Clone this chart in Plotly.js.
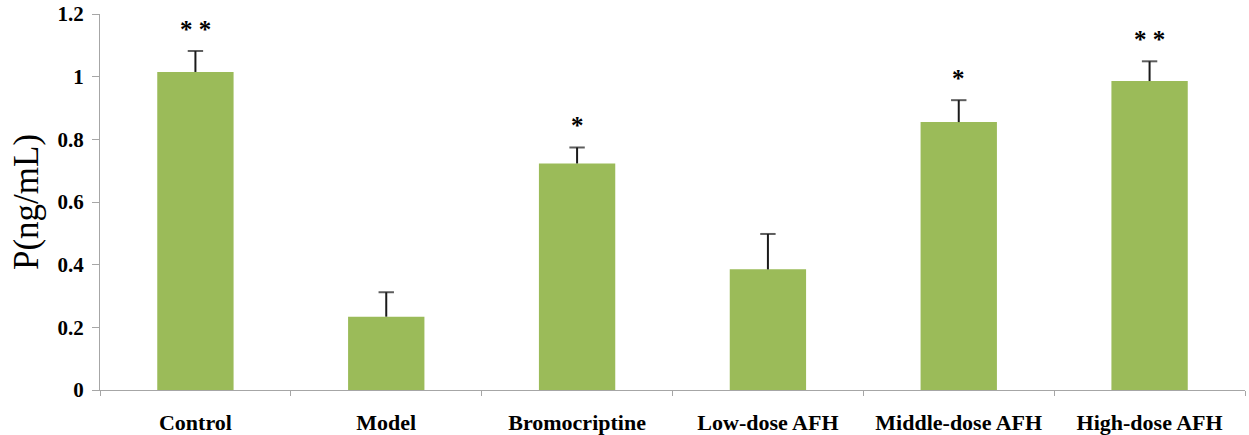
<!DOCTYPE html>
<html>
<head>
<meta charset="utf-8">
<script src="https://cdn.plot.ly/plotly-3.0.1.min.js"></script>
<style>html,body{margin:0;padding:0;background:#fff;}#chart{width:1249px;height:435px;}</style>
</head>
<body>
<div id="chart"></div>
<script>
var categories = ['Control', 'Model', 'Bromocriptine', 'Low-dose AFH', 'Middle-dose AFH', 'High-dose AFH'];
var values = [1.015, 0.234, 0.723, 0.385, 0.855, 0.986];
var errors = [0.067, 0.078, 0.051, 0.113, 0.070, 0.063];
var stars = ['* *', '', '*', '', '*', '* *'];
var yTicks = [0, 0.2, 0.4, 0.6, 0.8, 1, 1.2];
var yTickLabels = ['0', '0.2', '0.4', '0.6', '0.8', '1', '1.2'];

var fontFam = '"Liberation Serif", "Times New Roman", serif';

var barTrace = {
  type: 'bar',
  x: categories,
  y: values,
  marker: {color: '#9bbb59', line: {width: 0}},
  hoverinfo: 'none'
};

// upper-only error bars: vertical stem from bar top to bar top + error, cap at the top
var ex = [], ey = [], esize = [];
for (var i = 0; i < categories.length; i++) {
  ex.push(categories[i], categories[i], null);
  ey.push(values[i], values[i] + errors[i], null);
  esize.push(0, 11, 0);
}
var errTrace = {
  type: 'scatter',
  mode: 'lines+markers',
  x: ex,
  y: ey,
  line: {color: '#1a1a1a', width: 2},
  marker: {symbol: 'line-ew', size: esize, color: '#1a1a1a', line: {color: '#1a1a1a', width: 2}},
  connectgaps: false,
  hoverinfo: 'none'
};

var annotations = [];
for (var j = 0; j < categories.length; j++) {
  if (stars[j]) {
    annotations.push({
      x: categories[j],
      y: values[j] + errors[j],
      xref: 'x', yref: 'y',
      text: '<b>' + stars[j] + '</b>',
      showarrow: false,
      yanchor: 'bottom',
      yshift: 6,
      font: {family: fontFam, size: 25, color: '#000'}
    });
  }
}

var layout = {
  width: 1249,
  height: 435,
  margin: {l: 100, r: 4, t: 14, b: 45},
  paper_bgcolor: '#fff',
  plot_bgcolor: '#fff',
  bargap: 0.6,
  showlegend: false,
  xaxis: {
    type: 'category',
    showline: true,
    linecolor: '#a6a6a6',
    linewidth: 1,
    ticks: 'outside',
    tickson: 'boundaries',
    ticklen: 5,
    tickcolor: '#a6a6a6',
    showgrid: false,
    zeroline: false,
    ticklabelstandoff: 13,
    tickfont: {family: fontFam, size: 22, color: '#000', weight: 'bold'}
  },
  yaxis: {
    range: [0, 1.2],
    tickmode: 'array',
    tickvals: yTicks,
    ticktext: yTickLabels.map(function(t){return '<b>' + t + '</b>';}),
    showline: true,
    linecolor: '#a6a6a6',
    linewidth: 1,
    ticks: 'outside',
    ticklen: 7,
    tickcolor: '#a6a6a6',
    showgrid: false,
    zeroline: false,
    ticklabelstandoff: 4,
    tickfont: {family: fontFam, size: 21, color: '#000'},
    title: {text: 'P(ng/mL)', font: {family: fontFam, size: 35, color: '#000'}, standoff: 8}
  },
  annotations: annotations
};

Plotly.newPlot('chart', [barTrace, errTrace], layout, {displayModeBar: false, staticPlot: true});
</script>
</body>
</html>
